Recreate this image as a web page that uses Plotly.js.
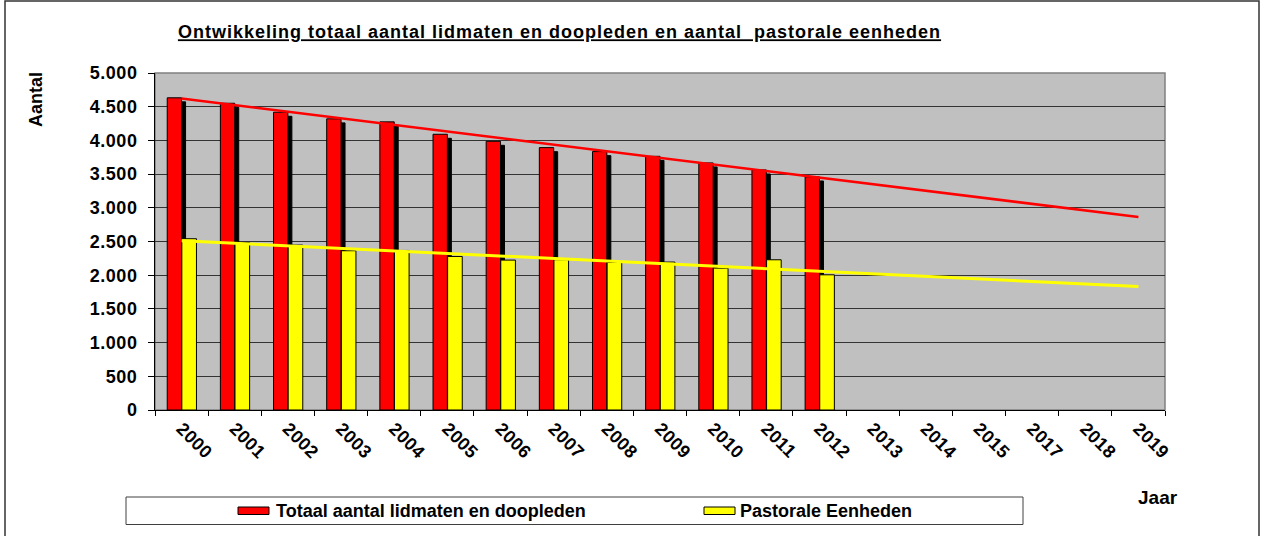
<!DOCTYPE html>
<html>
<head>
<meta charset="utf-8">
<script src="https://cdn.plot.ly/plotly-3.0.1.min.js"></script>
<style>
  html, body { margin: 0; padding: 0; background: #ffffff; }
  #chart { width: 1262px; height: 536px; }
  .xtick text, .ytick text { letter-spacing: 0.5px; }
  .gtitle { letter-spacing: 1px; }
</style>
</head>
<body>
<div id="chart"></div>
<script>
// ---- data ----
const years = ['2000','2001','2002','2003','2004','2005','2006','2007','2008','2009','2010','2011','2012','2013','2014','2015','2017','2018','2019'];
const barYears = ['2000','2001','2002','2003','2004','2005','2006','2007','2008','2009','2010','2011','2012'];
const lidmaten = [4632, 4551, 4418, 4320, 4275, 4091, 3987, 3893, 3834, 3764, 3666, 3562, 3458];
const pastorale = [2541, 2486, 2447, 2363, 2367, 2278, 2224, 2230, 2189, 2195, 2105, 2229, 2006];
const trendYears = ['2000', '2019'];
const trendLidmaten = [4621, 2863];
const trendPastorale = [2511, 1832];
const seriesNames = ['Totaal aantal lidmaten en doopleden', 'Pastorale Eenheden'];
const chartTitle = 'Ontwikkeling totaal aantal lidmaten en doopleden en aantal\u00A0 pastorale eenheden';

// ---- layout helpers (pixel -> paper) ----
const W = 1262, H = 536;
const M = { l: 155, r: 97, t: 73, b: 126 };
const PW = W - M.l - M.r, PH = H - M.t - M.b;
const px = x => (x - M.l) / PW;
const py = y => (H - M.b - y) / PH;

const FONT = 'Arial, "Liberation Sans", sans-serif';

const shadowVals = lidmaten.map(v => v - 60);

const traces = [
  { type: 'bar', x: barYears, y: shadowVals, offset: -0.195, width: 0.27,
    marker: { color: '#000000', line: { color: '#000000', width: 1 } },
    showlegend: false, hoverinfo: 'skip' },
  { type: 'bar', name: seriesNames[0], x: barYears, y: lidmaten, offset: -0.27, width: 0.27,
    marker: { color: '#FF0000', line: { color: '#000000', width: 1 } }, showlegend: false },
  { type: 'bar', name: seriesNames[1], x: barYears, y: pastorale, offset: 0.005, width: 0.275,
    marker: { color: '#FFFF00', line: { color: '#000000', width: 1 } }, showlegend: false },
  { type: 'scatter', mode: 'lines', x: trendYears, y: trendLidmaten,
    line: { color: '#FF0000', width: 2.5 }, showlegend: false, hoverinfo: 'skip' },
  { type: 'scatter', mode: 'lines', x: trendYears, y: trendPastorale,
    line: { color: '#FFFF00', width: 3 }, showlegend: false, hoverinfo: 'skip' }
];

const layout = {
  width: W, height: H,
  margin: M,
  paper_bgcolor: '#ffffff',
  plot_bgcolor: '#C0C0C0',
  barmode: 'overlay',
  separators: ',.',
  showlegend: false,
  font: { family: FONT, color: '#000000' },
  title: {
    text: chartTitle,
    xref: 'container', yref: 'container',
    x: 559.5 / W, xanchor: 'center',
    y: 1 - 32 / H, yanchor: 'middle',
    font: { family: FONT, size: 18, weight: 'bold', color: '#000000', lineposition: 'under' }
  },
  xaxis: {
    type: 'category',
    categoryorder: 'array',
    categoryarray: years,
    range: [-0.5, 18.5],
    tickangle: 45,
    tickson: 'boundaries',
    ticks: 'outside', ticklen: 5, tickcolor: '#000000', tickwidth: 1,
    showline: true, linecolor: '#000000', linewidth: 1,
    showgrid: false, zeroline: false,
    tickfont: { family: FONT, size: 18, weight: 'bold', color: '#000000' }
  },
  yaxis: {
    range: [0, 5000],
    dtick: 500, tick0: 0,
    tickformat: ',d',
    ticks: 'outside', ticklen: 6, tickcolor: '#000000', tickwidth: 1,
    ticklabelstandoff: 7,
    showline: true, linecolor: '#000000', linewidth: 1,
    showgrid: true, gridcolor: '#333333', gridwidth: 1,
    zeroline: false,
    tickfont: { family: FONT, size: 18, weight: 'bold', color: '#000000' }
  },
  shapes: [
    { type: 'rect', xref: 'paper', yref: 'paper', x0: 0, x1: 1, y0: 0, y1: 1,
      line: { color: '#808080', width: 1.5 }, layer: 'below' },
    { type: 'rect', xref: 'paper', yref: 'paper', x0: px(5), x1: px(1259), y0: py(545), y1: py(1),
      line: { color: '#333333', width: 1.5 } },
    { type: 'rect', xref: 'paper', yref: 'paper', x0: px(126), x1: px(1023), y0: py(524.5), y1: py(497),
      line: { color: '#404040', width: 1 } },
    { type: 'rect', xref: 'paper', yref: 'paper', x0: px(238), x1: px(269), y0: py(514.5), y1: py(507),
      fillcolor: '#FF0000', line: { color: '#000000', width: 1 } },
    { type: 'rect', xref: 'paper', yref: 'paper', x0: px(704), x1: px(735), y0: py(514.5), y1: py(507),
      fillcolor: '#FFFF00', line: { color: '#000000', width: 1 } }
  ],
  annotations: [
    { text: seriesNames[0], xref: 'paper', yref: 'paper', x: px(274), y: py(511),
      xanchor: 'left', yanchor: 'middle', showarrow: false,
      font: { family: FONT, size: 18, weight: 'bold', color: '#000000' } },
    { text: seriesNames[1], xref: 'paper', yref: 'paper', x: px(738), y: py(511),
      xanchor: 'left', yanchor: 'middle', showarrow: false,
      font: { family: FONT, size: 18, weight: 'bold', color: '#000000' } },
    { text: 'Aantal', xref: 'paper', yref: 'paper', x: px(36), y: py(100),
      xanchor: 'center', yanchor: 'middle', textangle: -90, showarrow: false,
      font: { family: FONT, size: 18, weight: 'bold', color: '#000000' } },
    { text: 'Jaar', xref: 'paper', yref: 'paper', x: px(1158), y: py(497),
      xanchor: 'center', yanchor: 'middle', showarrow: false,
      font: { family: FONT, size: 19, weight: 'bold', color: '#000000' } }
  ]
};

Plotly.newPlot('chart', traces, layout, { staticPlot: true, displayModeBar: false });
</script>
</body>
</html>
